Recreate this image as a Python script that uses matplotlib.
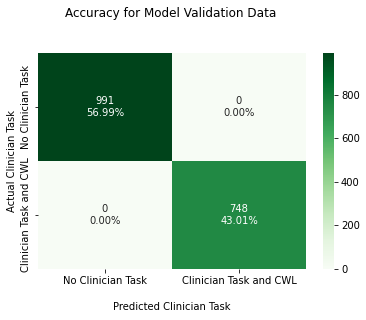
import matplotlib
matplotlib.use("Agg")
import matplotlib.pyplot as plt
import seaborn as sns
import numpy as np

categories = ["No Clinician Task", "Clinician Task and CWL"]
counts = np.array([[991, 0], [0, 748]])
percents = ["56.99%", "0.00%", "0.00%", "43.01%"]

labels = np.array([f"{c}\n{p}" for c, p in zip(counts.flatten(), percents)]).reshape(2, 2)

fig = plt.figure(figsize=(366/72, 320/72), dpi=72)
ax = fig.add_axes([38/366, 1-269/320, 268/366, 216/320])
cax = fig.add_axes([323/366, 1-269/320, 11/366, 216/320])
sns.heatmap(counts, annot=labels, fmt="", cmap="Greens", ax=ax, cbar_ax=cax,
            xticklabels=categories, yticklabels=categories, annot_kws={"fontsize": 10})
ax.set_xlabel("Predicted Clinician Task", fontsize=10, labelpad=16)
ax.set_ylabel("Actual Clinician Task", fontsize=10)
ax.tick_params(labelsize=10)
cax.tick_params(labelsize=10)
fig.suptitle("Accuracy for Model Validation Data", fontsize=12, x=171/366, y=1-13/320, va="center")
fig.savefig("out.png", dpi=72)
